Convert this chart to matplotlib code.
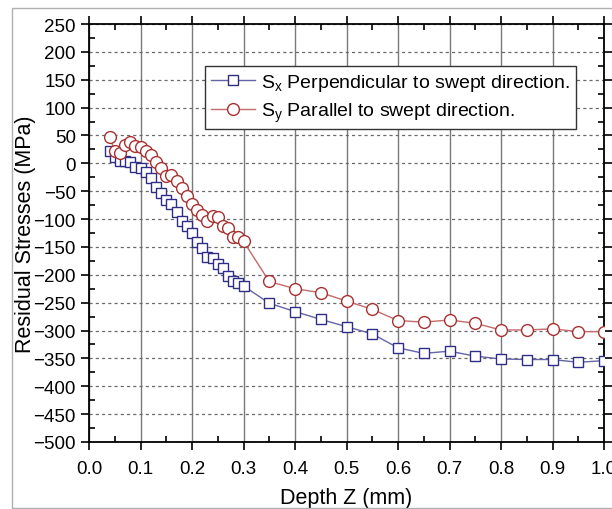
import matplotlib.pyplot as plt
from matplotlib.patches import Rectangle
from matplotlib.ticker import MultipleLocator

plt.rcParams['font.family'] = ['Liberation Sans', 'DejaVu Sans']
plt.rcParams['mathtext.default'] = 'regular'

# depth (mm)
depth_x = [0.04, 0.05, 0.06, 0.07, 0.08, 0.09, 0.10, 0.11, 0.12, 0.13, 0.14, 0.15,
           0.16, 0.17, 0.18, 0.19, 0.20, 0.21, 0.22, 0.23, 0.24, 0.25, 0.26, 0.27,
           0.28, 0.29, 0.30, 0.35, 0.40, 0.45, 0.50, 0.55, 0.60, 0.65, 0.70, 0.75,
           0.80, 0.85, 0.90, 0.95, 1.00]
sx = [22, 12, 5, 5, 2, -7, -8, -15, -27, -43, -53, -65,
      -73, -88, -103, -112, -125, -142, -152, -168, -170, -180, -188, -203,
      -212, -215, -220, -251, -266, -280, -293, -306, -331, -341, -337, -346,
      -351, -352, -352, -357, -354]

depth_y = depth_x
sy = [48, 22, 19, 32, 39, 31, 30, 23, 15, 3, -9, -22,
      -21, -31, -45, -59, -73, -83, -93, -104, -94, -97, -112, -116,
      -132, -133, -140, -212, -225, -232, -247, -262, -282, -285, -281, -287,
      -299, -299, -297, -302, -302]

fig = plt.figure(figsize=(6.12, 5.10), dpi=100)
fig.patches.append(Rectangle((12 / 612, 1 - 509 / 510), 1.0, 500 / 510,
                             transform=fig.transFigure, fill=False,
                             edgecolor='#b0b0b0', linewidth=1.0))
ax = fig.add_axes([89 / 612, 1 - 443 / 510, 515 / 612, 418 / 510])

ax.plot(depth_x, sx, '-s', color='#6464a8', markeredgecolor='#2e2e86',
        markerfacecolor='white', markersize=7.5, markeredgewidth=1.0, linewidth=1.0,
        label=r'S$_x$ Perpendicular to swept direction.', zorder=3)
ax.plot(depth_y, sy, '-o', color='#c46a6a', markeredgecolor='#a83030',
        markerfacecolor='white', markersize=8.5, markeredgewidth=1.0, linewidth=1.0,
        label=r'S$_y$ Parallel to swept direction.', zorder=3)

ax.set_xlim(0.0, 1.0)
ax.set_ylim(-500, 250)
ax.xaxis.set_major_locator(MultipleLocator(0.1))
ax.xaxis.set_minor_locator(MultipleLocator(0.05))
ax.yaxis.set_major_locator(MultipleLocator(50))
ax.yaxis.set_minor_locator(MultipleLocator(25))
ax.set_xticklabels([f'{v:.1f}' for v in ax.get_xticks()])

ax.grid(True, axis='x', which='major', color='#7a7a7a', linestyle='-', linewidth=1.0)
ax.grid(True, axis='y', which='major', color='#6a6a6a', linestyle=(0, (2.5, 2.5)), linewidth=0.9)
ax.set_axisbelow(True)

for s in ax.spines.values():
    s.set_linewidth(1.3)

ax.tick_params(which='both', top=True, right=True, labelsize=13.5, width=1.2)
ax.tick_params(which='major', direction='out', length=6)
ax.tick_params(which='minor', direction='in', length=4)
ax.tick_params(axis='x', which='major', pad=7)

ax.set_xlabel('Depth Z (mm)', fontsize=15.5, labelpad=7)
ax.set_ylabel('Residual Stresses (MPa)', fontsize=15.5, labelpad=-2)

leg = ax.legend(loc='upper left', bbox_to_anchor=(0.225, 0.9), fontsize=14,
                frameon=True, fancybox=False, framealpha=1.0, edgecolor='#333333',
                handlelength=2.3, handletextpad=0.3, borderpad=0.3, labelspacing=0.4,
                borderaxespad=0)
leg.get_frame().set_linewidth(1.0)

fig.savefig('out.png', dpi=100)
